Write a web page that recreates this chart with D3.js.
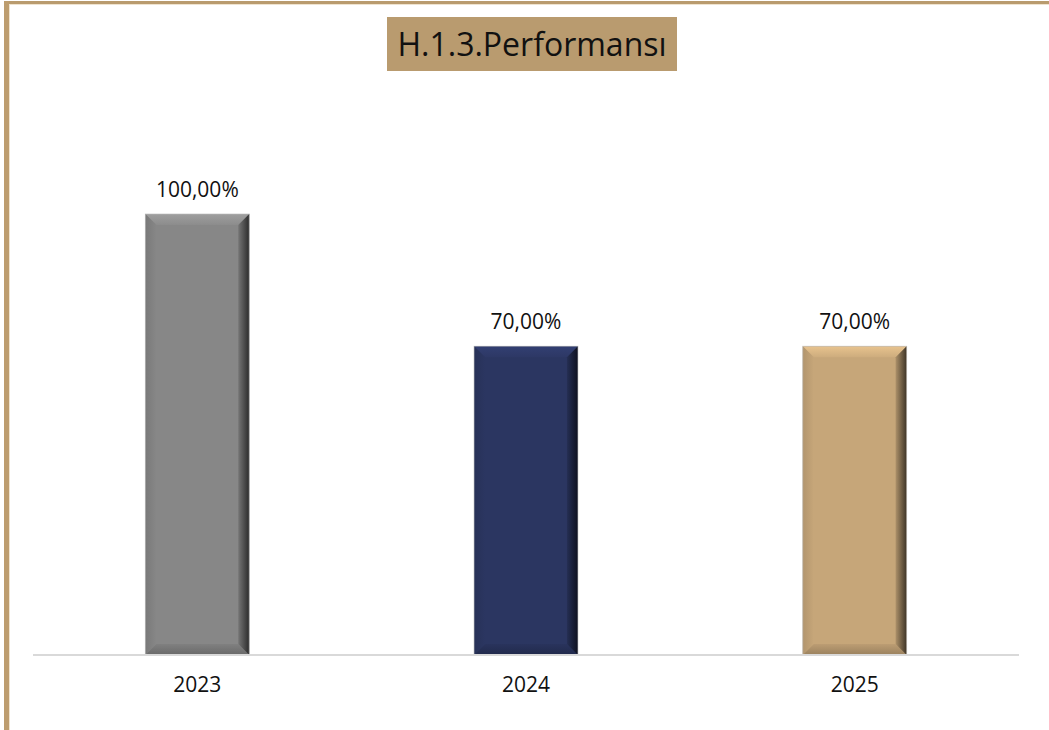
<!DOCTYPE html>
<html>
<head>
<meta charset="utf-8">
<script src="https://cdn.jsdelivr.net/npm/d3@7"></script>
<style>
  body { margin: 0; background: #fff; }
  text { font-family: "Open Sans", sans-serif; }
</style>
</head>
<body>
<div id="chart"></div>
<script>
const years = ["2023", "2024", "2025"];
const values = [1.0, 0.7, 0.7];
const labels = ["100,00%", "70,00%", "70,00%"];
const colors = ["#878787", "#2b3661", "#c6a679"];
const title = "H.1.3.Performansı";

const width = 1049,
  height = 730;

const svg = d3
  .select("#chart")
  .append("svg")
  .attr("width", width)
  .attr("height", height);

// frame (tan, only top and left visible)
svg.append("rect").attr("x", 0).attr("y", 0).attr("width", width).attr("height", height).attr("fill", "#fff");
svg.append("rect").attr("x", 4).attr("y", 1).attr("width", width - 4).attr("height", 3).attr("fill", "#b99b6e");
svg.append("rect").attr("x", 4).attr("y", 4).attr("width", width - 4).attr("height", 1).attr("fill", "#efe3cf");
svg.append("rect").attr("x", 4).attr("y", 1).attr("width", 5).attr("height", height).attr("fill", "#bd9d6f");
svg.append("rect").attr("x", 9).attr("y", 4).attr("width", 1).attr("height", height).attr("fill", "#efe3cf");

// title box
svg.append("rect").attr("x", 387).attr("y", 17).attr("width", 290).attr("height", 54).attr("fill", "#b99b6f");
svg
  .append("text")
  .attr("x", 532)
  .attr("y", 56)
  .attr("text-anchor", "middle")
  .attr("font-size", 32)
  .attr("fill", "#111")
  .text(title);

const x = d3
  .scaleBand()
  .domain(years)
  .range([33, 1019])
  .paddingInner(0.684)
  .paddingOuter(0.342);

const y = d3.scaleLinear().domain([0, 1]).range([655, 214]);

const defs = svg.append("defs");
const b = 11; // bevel size

colors.forEach((c, i) => {
  const base = d3.color(c);
  const gr = defs.append("linearGradient").attr("id", "right" + i).attr("x1", 0).attr("x2", 1).attr("y1", 0).attr("y2", 0);
  gr.append("stop").attr("offset", "0%").attr("stop-color", base.darker(0.4));
  gr.append("stop").attr("offset", "100%").attr("stop-color", base.darker(3.2));
  const gt = defs.append("linearGradient").attr("id", "top" + i).attr("x1", 0).attr("x2", 0).attr("y1", 0).attr("y2", 1);
  gt.append("stop").attr("offset", "0%").attr("stop-color", base.brighter(0.45));
  gt.append("stop").attr("offset", "100%").attr("stop-color", base.brighter(0.1));
  const gl = defs.append("linearGradient").attr("id", "left" + i).attr("x1", 0).attr("x2", 1).attr("y1", 0).attr("y2", 0);
  gl.append("stop").attr("offset", "0%").attr("stop-color", base.darker(0.3));
  gl.append("stop").attr("offset", "100%").attr("stop-color", base);
  const gb = defs.append("linearGradient").attr("id", "bot" + i).attr("x1", 0).attr("x2", 0).attr("y1", 0).attr("y2", 1);
  gb.append("stop").attr("offset", "0%").attr("stop-color", base.darker(0.15));
  gb.append("stop").attr("offset", "100%").attr("stop-color", base.darker(0.7));
});

const data = years.map((yr, i) => ({ year: yr, value: values[i], label: labels[i], i }));

const bars = svg.selectAll("g.bar").data(data).enter().append("g").attr("class", "bar");

bars
  .append("rect")
  .attr("x", (d) => x(d.year))
  .attr("y", (d) => y(d.value))
  .attr("width", x.bandwidth())
  .attr("height", (d) => y(0) - y(d.value))
  .attr("fill", (d) => colors[d.i]);

const pts = (arr) => arr.map((p) => p.join(",")).join(" ");

// bevel faces
bars.append("polygon").attr("fill", (d) => `url(#top${d.i})`).attr("points", (d) => {
  const x0 = x(d.year), x1 = x0 + x.bandwidth(), y0 = y(d.value);
  return pts([[x0, y0], [x1, y0], [x1 - b, y0 + b], [x0 + b, y0 + b]]);
});
bars.append("polygon").attr("fill", (d) => `url(#left${d.i})`).attr("points", (d) => {
  const x0 = x(d.year), y0 = y(d.value), y1 = y(0);
  return pts([[x0, y0], [x0 + b, y0 + b], [x0 + b, y1 - b], [x0, y1]]);
});
bars.append("polygon").attr("fill", (d) => `url(#bot${d.i})`).attr("points", (d) => {
  const x0 = x(d.year), x1 = x0 + x.bandwidth(), y1 = y(0);
  return pts([[x0, y1], [x0 + b, y1 - b], [x1 - b, y1 - b], [x1, y1]]);
});
bars.append("polygon").attr("fill", (d) => `url(#right${d.i})`).attr("points", (d) => {
  const x1 = x(d.year) + x.bandwidth(), y0 = y(d.value), y1 = y(0);
  return pts([[x1, y0], [x1, y1], [x1 - b, y1 - b], [x1 - b, y0 + b]]);
});
bars
  .append("rect")
  .attr("x", (d) => x(d.year))
  .attr("y", (d) => y(d.value))
  .attr("width", x.bandwidth())
  .attr("height", (d) => y(0) - y(d.value))
  .attr("fill", "none")
  .attr("stroke", "#bbb")
  .attr("stroke-opacity", 0.6)
  .attr("stroke-width", 1);

// value labels
bars
  .append("text")
  .attr("x", (d) => x(d.year) + x.bandwidth() / 2)
  .attr("y", (d) => y(d.value) - 17)
  .attr("text-anchor", "middle")
  .attr("font-size", 21)
  .attr("fill", "#111")
  .text((d) => d.label);

// category axis
const axis = svg
  .append("g")
  .attr("transform", `translate(0,${y(0)})`)
  .call(d3.axisBottom(x).tickSize(0).tickPadding(22));
axis.select(".domain").attr("stroke", "#d9d9d9").attr("stroke-width", 2).attr("d", "M33,0H1019");
axis.selectAll("text").attr("font-size", 21).attr("fill", "#111").attr("font-family", "Open Sans, sans-serif");
</script>
</body>
</html>
